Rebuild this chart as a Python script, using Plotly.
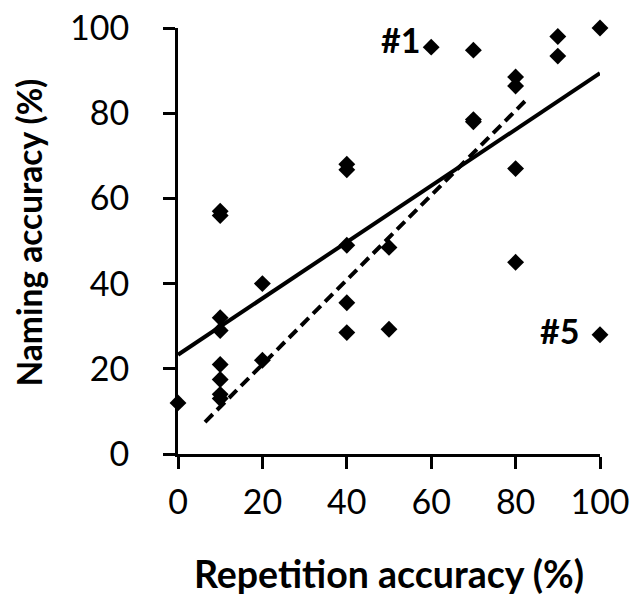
import plotly.graph_objects as go

# Data
rep_acc = [0, 10, 10, 10, 10, 10, 10, 10, 10, 20, 20, 40, 40, 40, 40, 40, 50, 50,
           60, 70, 70, 70, 80, 80, 80, 80, 90, 90, 100, 100]
nam_acc = [12, 57, 56, 32, 29, 21, 17.5, 14, 13, 40, 22, 68, 66.7, 49, 35.5, 28.5, 48.5, 29.3,
           95.5, 94.8, 78.5, 78, 88.5, 86.4, 67, 45, 98, 93.4, 100, 28]

fit_x = [0, 100]
fit_y = [23.3, 89.4]

dash_x = [6.4, 82.5]
dash_y = [7.5, 83.1]

tick_vals = [0, 20, 40, 60, 80, 100]
tick_text = ["0", "20", "40", "60", "80", "100"]

labels_text = ["#1", "#5"]
labels_x = [60, 100]
labels_y = [95.5, 28]

FONT = "Lato"

fig = go.Figure()
fig.add_trace(go.Scatter(x=fit_x, y=fit_y, mode="lines",
                         line=dict(color="black", width=4), showlegend=False))
fig.add_trace(go.Scatter(x=dash_x, y=dash_y, mode="lines",
                         line=dict(color="black", width=4, dash="11px,6px"), showlegend=False))
fig.add_trace(go.Scatter(x=rep_acc, y=nam_acc, mode="markers",
                         marker=dict(symbol="diamond", size=13, color="black"),
                         cliponaxis=False, showlegend=False))

offsets = [(-9, 8), (-19, 4)]
for (t, x, y), (dx, dy) in zip(zip(labels_text, labels_x, labels_y), offsets):
    fig.add_annotation(x=x, y=y, text="<b>" + t + "</b>", showarrow=False,
                       xanchor="right", yshift=dy, xshift=dx,
                       font=dict(family=FONT, size=34, color="black"))

# y-axis title as a rotated annotation (precise placement)
fig.add_annotation(xref="paper", yref="paper", x=-0.353, y=0.52,
                   text="<b>Naming accuracy (%)</b>", textangle=-90, showarrow=False,
                   xanchor="center", yanchor="middle",
                   font=dict(family=FONT, size=33.5, color="black"))

axis_common = dict(
    range=[0, 100], tickvals=tick_vals, ticktext=tick_text,
    showline=True, linecolor="black", linewidth=3,
    ticks="outside", ticklen=12, tickwidth=2.5, tickcolor="black",
    showgrid=False, zeroline=False, automargin=False,
    tickfont=dict(family=FONT, size=34, color="black"),
)

fig.update_layout(
    width=633, height=597,
    margin=dict(l=178, r=33, t=28, b=143),
    plot_bgcolor="white", paper_bgcolor="white",
    xaxis=dict(**axis_common, ticklabelstandoff=4,
               title=dict(text="<b>Repetition accuracy (%)</b>",
                          font=dict(family=FONT, size=37.5, color="black"), standoff=42)),
    yaxis=dict(**axis_common, ticklabelstandoff=27),
)

fig.write_html("out.html", config={"displayModeBar": False},
               post_script="document.body.style.margin='0';document.body.style.overflow='hidden';")
